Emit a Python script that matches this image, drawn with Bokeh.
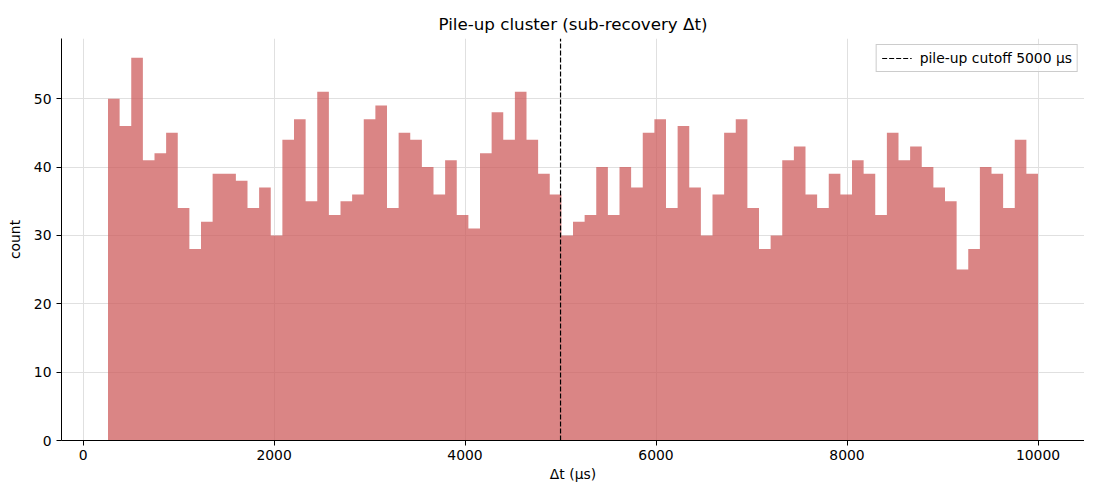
import numpy as np
from bokeh.plotting import figure
from bokeh.models import Legend, LegendItem, Range1d, FixedTicker
from bokeh.embed import file_html
from bokeh.resources import INLINE

counts = [50, 46, 56, 41, 42, 45, 34, 28, 32, 39,
          39, 38, 34, 37, 30, 44, 47, 35, 51, 33,
          35, 36, 47, 49, 34, 45, 44, 40, 36, 41,
          33, 31, 42, 48, 44, 51, 44, 39, 36,
          30, 32, 33, 40, 33, 40, 37, 45, 47, 34,
          46, 37, 30, 36, 45, 47, 34, 28, 30, 41,
          43, 36, 34, 39, 36, 41, 39, 33, 45, 41,
          43, 40, 37, 35, 25, 28, 40, 39, 34, 44, 39]
bin_start = 261
bin_end = 10000
cutoff = 5000
x_ticks = [0, 2000, 4000, 6000, 8000, 10000]
y_ticks = [0, 10, 20, 30, 40, 50]

edges = np.linspace(bin_start, bin_end, len(counts) + 1)
span_x = bin_end - bin_start
y_top = max(counts) * 1.05
FONT = "DejaVu Sans"

# step outline of the histogram (one patch: no seams between bars)
xs = [edges[0]]
ys = [0]
for i, c in enumerate(counts):
    xs += [edges[i], edges[i + 1]]
    ys += [c, c]
xs.append(edges[-1])
ys.append(0)

p = figure(width=1084, height=484, output_backend="svg", toolbar_location=None,
           title="Pile-up cluster (sub-recovery Δt)",
           x_range=Range1d(bin_start - 0.05 * span_x, bin_end + 0.05 * span_x),
           y_range=Range1d(0, y_top),
           min_border_left=61, min_border_right=0, min_border_top=38, min_border_bottom=40)

p.patch(x=xs, y=ys, fill_color="indianred", fill_alpha=0.75, line_color=None)

cut = p.segment(x0=[cutoff], y0=[0], x1=[cutoff], y1=[y_top], line_color="black",
                line_width=1.2, line_dash="5 2")

legend = Legend(items=[LegendItem(label="pile-up cutoff 5000 µs", renderers=[cut])],
                location="top_right", margin=6, padding=5, spacing=0,
                label_text_font=FONT, label_text_font_size="13.9px",
                label_text_color="black", label_height=14,
                border_line_color="#cccccc", border_line_alpha=1.0,
                background_fill_alpha=0.8, glyph_width=30, glyph_height=14,
                label_standoff=8)
p.add_layout(legend)

p.title.text_font = FONT
p.title.text_font_size = "16.7px"
p.title.text_font_style = "normal"
p.title.text_color = "black"
p.title.align = "center"

p.xaxis.axis_label = "Δt (µs)"
p.yaxis.axis_label = "count"
for ax in (p.xaxis[0], p.yaxis[0]):
    ax.axis_label_text_font = FONT
    ax.axis_label_text_font_size = "13.9px"
    ax.axis_label_text_font_style = "normal"
    ax.axis_label_text_color = "black"
    ax.major_label_text_font = FONT
    ax.major_label_text_font_size = "13.9px"
    ax.major_label_text_color = "black"
    ax.minor_tick_line_color = None
    ax.major_tick_out = 5
    ax.major_tick_in = 0
    ax.axis_line_color = "black"
    ax.major_tick_line_color = "black"
p.xaxis.ticker = FixedTicker(ticks=x_ticks)
p.yaxis.ticker = FixedTicker(ticks=y_ticks)
p.xaxis.major_label_standoff = 4
p.xaxis.axis_label_standoff = 3
p.yaxis.axis_label_standoff = 8

p.xgrid.ticker = FixedTicker(ticks=x_ticks)
p.ygrid.ticker = FixedTicker(ticks=y_ticks)
p.grid.grid_line_color = "#e0e0e0"
p.grid.grid_line_alpha = 1.0
p.outline_line_color = None

open("out.html", "w").write(file_html(p, INLINE))
